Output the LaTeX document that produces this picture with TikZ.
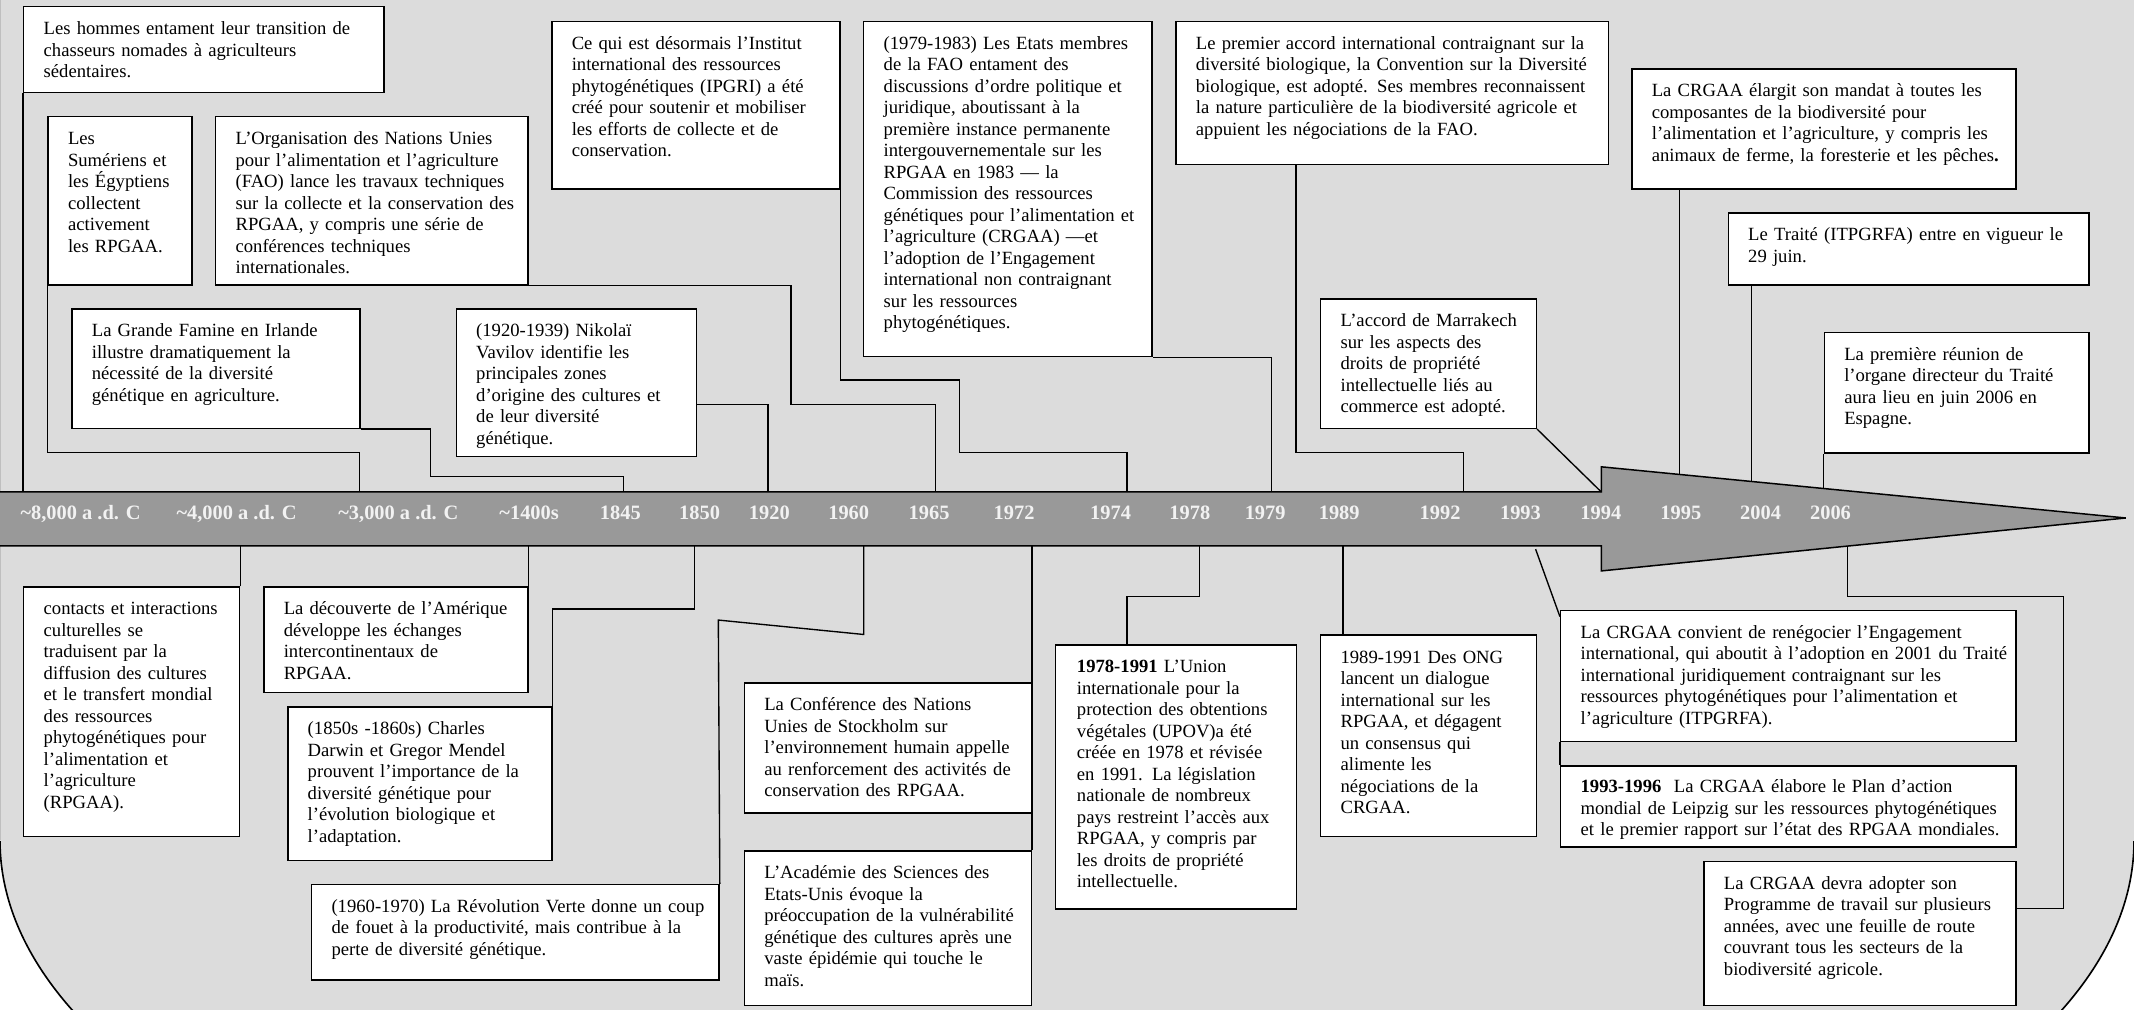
\documentclass[tikz,border=0pt]{standalone}
\usepackage{fontspec}
\setmainfont{Liberation Serif}
\usetikzlibrary{calc}
\definecolor{fond}{RGB}{220,220,220}
\definecolor{bande}{RGB}{153,153,153}
\definecolor{chiffre}{RGB}{242,242,242}

\tikzset{
  evbox/.style={draw, fill=white, line width=1.1pt, anchor=north west, inner sep=0pt},
  evtxt/.style={anchor=base west, inner sep=0pt, align=left, font=\fontsize{13.7}{15.8}\selectfont},
  conn/.style={line width=1pt},
  annee/.style={anchor=base, text=chiffre, inner sep=0pt, font=\fontsize{15}{18}\selectfont\bfseries}
}

\begin{document}
\begin{tikzpicture}[x=1pt, y=-1pt]
  \useasboundingbox (0,0) rectangle (1568,741.4);
  \fill[white] (0,0) rectangle (1568,741.4);
  % fond
  \begin{scope}
    \clip (0,617.5) rectangle (1568,741.4);
    \draw[line width=1.2pt, fill=fond] (784,617.5) ellipse [x radius=784pt, y radius=344pt];
  \end{scope}
  \fill[fond] (0,0) rectangle (1568,617.6);
  \draw[gray!50, line width=0.8pt] (0.4,0) -- (0.4,617.5);

  % bande du temps
  \coordinate (bt) at (0,361.5);
  \coordinate (bb) at (0,401);
  \coordinate (tsh) at (1176.6,343);
  \coordinate (bsh) at (1176.6,419.5);
  \coordinate (tip) at (1562,380.6);
  \fill[bande] (bt) -- (tsh |- bt) -- (tsh) -- (tip) -- (bsh) -- (bsh |- bb) -- (bb) -- cycle;
  \draw[line width=1.1pt] (bt) -- (tsh |- bt) -- (tsh) -- (tip) -- (bsh) -- (bsh |- bb) -- (bb);
  \coordinate (p1995) at ($(tsh)!0.1487!(tip)$);
  \coordinate (p2004) at ($(tsh)!0.2862!(tip)$);
  \coordinate (p2006) at ($(tsh)!0.4237!(tip)$);
  \coordinate (q2006) at ($(bsh)!0.4699!(tip)$);

  \foreach \x/\an [count=\i] in {59.2/{\textasciitilde8,000 a .d. C}, 173.8/{\textasciitilde4,000 a .d. C},
      292.7/{\textasciitilde3,000 a .d. C}, 388.8/{\textasciitilde1400s}, 455.8/1845, 514/1850, 565.3/1920,
      623.6/1960, 682.7/1965, 745.1/1972, 816/1974, 874.3/1978, 929.6/1979, 984/1989, 1058.1/1992,
      1117.2/1993, 1176.2/1994, 1235/1995, 1293.6/2004, 1345/2006}
    \node[annee] (an\i) at (\x,382) {\an};

  % cases du haut
  \node[evbox, minimum width=264.8pt, minimum height=62.9pt] (hommes) at (16.9,4.4) {};
  \node[evbox, minimum width=105.9pt, minimum height=123.5pt] (sumer) at (34.8,85.2) {};
  \node[evbox, minimum width=229.4pt, minimum height=123.5pt] (fao) at (157.9,85.2) {};
  \node[evbox, minimum width=211.6pt, minimum height=123.2pt] (ipgri) at (404.9,15.2) {};
  \node[evbox, minimum width=211.9pt, minimum height=246.3pt] (crgaa) at (634.1,15.2) {};
  \node[evbox, minimum width=317.8pt, minimum height=105.3pt] (cdb) at (863.5,15.2) {};
  \node[evbox, minimum width=158.5pt, minimum height=95pt] (adpic) at (969.8,219.2) {};
  \node[evbox, minimum width=282.4pt, minimum height=88.2pt] (mandat) at (1198.5,50.2) {};
  \node[evbox, minimum width=264.9pt, minimum height=52.9pt] (traite) at (1269.3,155.8) {};
  \node[evbox, minimum width=194.3pt, minimum height=88.6pt] (reunion) at (1339.9,243.7) {};
  \node[evbox, minimum width=211.5pt, minimum height=87.7pt] (famine) at (52.3,226.5) {};
  \node[evbox, minimum width=176.5pt, minimum height=108.3pt] (vavilov) at (334.7,226.5) {};
  % cases du bas
  \node[evbox, minimum width=158.5pt, minimum height=183.4pt] (contacts) at (16.9,430.8) {};
  \node[evbox, minimum width=194pt, minimum height=77.6pt] (amerique) at (193.3,430.8) {};
  \node[evbox, minimum width=194pt, minimum height=112.8pt] (darwin) at (210.9,518.8) {};
  \node[evbox, minimum width=299.4pt, minimum height=70.2pt] (verte) at (228.4,649.4) {};
  \node[evbox, minimum width=210.8pt, minimum height=95.5pt] (stockholm) at (546.4,501.4) {};
  \node[evbox, minimum width=210.8pt, minimum height=113.6pt] (academie) at (546.4,624.6) {};
  \node[evbox, minimum width=176.8pt, minimum height=194.1pt] (upov) at (775.1,473.4) {};
  \node[evbox, minimum width=158.5pt, minimum height=148pt] (ong) at (969.8,466.2) {};
  \node[evbox, minimum width=334.7pt, minimum height=96pt] (renego) at (1146.2,448.1) {};
  \node[evbox, minimum width=334.7pt, minimum height=59.6pt] (leipzig) at (1146.2,562.1) {};
  \node[evbox, minimum width=229.4pt, minimum height=105.9pt] (programme) at (1251.5,632.3) {};

  % liaisons
  \draw[conn] (hommes.south west) -- (hommes.south west |- bt);
  \draw[conn] (sumer.south west) |- (264.2,332.3) -- (264.2,0 |- bt);
  \draw[conn] (famine.south east) -| (316.5,350.2) -| (457.9,0 |- bt);
  \draw[conn] ($(vavilov.north east)+(0,70.5)$) -| (564.2,0 |- bt);
  \draw[conn] (fao.south east) -| (581.1,297) -| (687.4,0 |- bt);
  \draw[conn] (ipgri.south east) |- (705,279.2) |- (828.1,332.3) -- (828.1,0 |- bt);
  \draw[conn] (crgaa.south east) -| (934.4,0 |- bt);
  \draw[conn] ($(cdb.south west)+(88.7,0)$) |- (1075.3,332.3) -- (1075.3,0 |- bt);
  \draw[conn] (adpic.south east) -- (tsh |- bt);
  \draw[conn] (p1995 |- mandat.south) -- (p1995);
  \draw[conn] (p2004 |- traite.south) -- (p2004);
  \draw[conn] (p2006 |- reunion.south) -- (p2006);
  \draw[conn] (contacts.north east) -- (contacts.north east |- bb);
  \draw[conn] (amerique.north east) -- (amerique.north east |- bb);
  \draw[conn] (darwin.north east) |- (510.5,447.6) -- (510.5,0 |- bb);
  \draw[conn] (verte.north east) -- (527.8,455.6) -- (634.7,466.2) -- (634.7,0 |- bb);
  \draw[conn] (academie.north east) -- (academie.north east |- bb);
  \draw[conn] ($(upov.north west)+(53,0)$) |- (881.4,438.2) -- (881.4,0 |- bb);
  \draw[conn] ($(ong.north west)+(16.9,0)$) -- (986.7,0 |- bb);
  \draw[conn] ($(renego.north west)+(0,5)$) -- (1128.3,403.5);
  \draw[conn] (renego.south west) -- (leipzig.north west);
  \draw[conn] ($(programme.north east)+(0,35.2)$) -| (1516.3,438.2) -| (q2006);

  % textes
  \node[evtxt, text width=248pt] (hommes-t) at ($(hommes.north west)+(15,21)$)
    {Les hommes entament leur transition de\\chasseurs nomades à agriculteurs\\sédentaires.};
  \node[evtxt, text width=90pt] (sumer-t) at ($(sumer.north west)+(15,21)$)
    {Les\\Sumériens et\\les Égyptiens\\collectent\\activement\\les RPGAA.};
  \node[evtxt, text width=214pt] (fao-t) at ($(fao.north west)+(15,21)$)
    {L’Organisation des Nations Unies\\pour l’alimentation et l’agriculture\\(FAO) lance les travaux techniques\\sur la collecte et la conservation des\\RPGAA, y compris une série de\\conférences techniques\\internationales.};
  \node[evtxt, text width=196pt] (ipgri-t) at ($(ipgri.north west)+(15,21)$)
    {Ce qui est désormais l’Institut\\international des ressources\\phytogénétiques (IPGRI) a été\\créé pour soutenir et mobiliser\\les efforts de collecte et de\\conservation.};
  \node[evtxt, text width=196pt] (crgaa-t) at ($(crgaa.north west)+(15,21)$)
    {(1979-1983) Les Etats membres\\de la FAO entament des\\discussions d’ordre politique et\\juridique, aboutissant à la\\première instance permanente\\intergouvernementale sur les\\RPGAA en 1983 — la\\Commission des ressources\\génétiques pour l’alimentation et\\l’agriculture (CRGAA) —et\\l’adoption de l’Engagement\\international non contraignant\\sur les ressources\\phytogénétiques.};
  \node[evtxt, text width=302pt] (cdb-t) at ($(cdb.north west)+(15,21)$)
    {Le premier accord international contraignant sur la\\diversité biologique, la Convention sur la Diversité\\biologique, est adopté. Ses membres reconnaissent\\la nature particulière de la biodiversité agricole et\\appuient les négociations de la FAO.};
  \node[evtxt, text width=143pt] (adpic-t) at ($(adpic.north west)+(15,21)$)
    {L’accord de Marrakech\\sur les aspects des\\droits de propriété\\intellectuelle liés au\\commerce est adopté.};
  \node[evtxt, text width=267pt] (mandat-t) at ($(mandat.north west)+(15,21)$)
    {La CRGAA élargit son mandat à toutes les\\composantes de la biodiversité pour\\l’alimentation et l’agriculture, y compris les\\animaux de ferme, la foresterie et les pêches\textbf{.}};
  \node[evtxt, text width=249pt] (traite-t) at ($(traite.north west)+(15,21)$)
    {Le Traité (ITPGRFA) entre en vigueur le\\29 juin.};
  \node[evtxt, text width=179pt] (reunion-t) at ($(reunion.north west)+(15,21)$)
    {La première réunion de\\l’organe directeur du Traité\\aura lieu en juin 2006 en\\Espagne.};
  \node[evtxt, text width=196pt] (famine-t) at ($(famine.north west)+(15,21)$)
    {La Grande Famine en Irlande\\illustre dramatiquement la\\nécessité de la diversité\\génétique en agriculture.};
  \node[evtxt, text width=161pt] (vavilov-t) at ($(vavilov.north west)+(15,21)$)
    {(1920-1939) Nikolaï\\Vavilov identifie les\\principales zones\\d’origine des cultures et\\de leur diversité\\génétique.};
  \node[evtxt, text width=143pt] (contacts-t) at ($(contacts.north west)+(15,21)$)
    {contacts et interactions\\culturelles se\\traduisent par la\\diffusion des cultures\\et le transfert mondial\\des ressources\\phytogénétiques pour\\l’alimentation et\\l’agriculture\\(RPGAA).};
  \node[evtxt, text width=179pt] (amerique-t) at ($(amerique.north west)+(15,21)$)
    {La découverte de l’Amérique\\développe les échanges\\intercontinentaux de\\RPGAA.};
  \node[evtxt, text width=179pt] (darwin-t) at ($(darwin.north west)+(15,21)$)
    {(1850s -1860s) Charles\\Darwin et Gregor Mendel\\prouvent l’importance de la\\diversité génétique pour\\l’évolution biologique et\\l’adaptation.};
  \node[evtxt, text width=284pt] (verte-t) at ($(verte.north west)+(15,21)$)
    {(1960-1970) La Révolution Verte donne un coup\\de fouet à la productivité, mais contribue à la\\perte de diversité génétique.};
  \node[evtxt, text width=195pt] (stockholm-t) at ($(stockholm.north west)+(15,21)$)
    {La Conférence des Nations\\Unies de Stockholm sur\\l’environnement humain appelle\\au renforcement des activités de\\conservation des RPGAA.};
  \node[evtxt, text width=195pt] (academie-t) at ($(academie.north west)+(15,21)$)
    {L’Académie des Sciences des\\Etats-Unis évoque la\\préoccupation de la vulnérabilité\\génétique des cultures après une\\vaste épidémie qui touche le\\maïs.};
  \node[evtxt, text width=160pt] (upov-t) at ($(upov.north west)+(16,21)$)
    {\textbf{1978-1991} L’Union\\internationale pour la\\protection des obtentions\\végétales (UPOV)a été\\créée en 1978 et révisée\\en 1991. La législation\\nationale de nombreux\\pays restreint l’accès aux\\RPGAA, y compris par\\les droits de propriété\\intellectuelle.};
  \node[evtxt, text width=143pt] (ong-t) at ($(ong.north west)+(15,21)$)
    {1989-1991 Des ONG\\lancent un dialogue\\international sur les\\RPGAA, et dégagent\\un consensus qui\\alimente les\\négociations de la\\CRGAA.};
  \node[evtxt, text width=319pt] (renego-t) at ($(renego.north west)+(15,21)$)
    {La CRGAA convient de renégocier l’Engagement\\international, qui aboutit à l’adoption en 2001 du Traité\\international juridiquement contraignant sur les\\ressources phytogénétiques pour l’alimentation et\\l’agriculture (ITPGRFA).};
  \begin{scope}
    \clip (leipzig.north west) rectangle ($(leipzig.south east)+(0,-7)$);
    \node[evtxt, text width=319pt] (leipzig-t) at ($(leipzig.north west)+(15,20.5)$)
      {\textbf{1993-1996}~ La CRGAA élabore le Plan d’action\\mondial de Leipzig sur les ressources phytogénétiques\\et le premier rapport sur l’état des RPGAA mondiales.};
  \end{scope}
  \node[evtxt, text width=214pt] (programme-t) at ($(programme.north west)+(15,21)$)
    {La CRGAA devra adopter son\\Programme de travail sur plusieurs\\années, avec une feuille de route\\couvrant tous les secteurs de la\\biodiversité agricole.};
\end{tikzpicture}
\end{document}
